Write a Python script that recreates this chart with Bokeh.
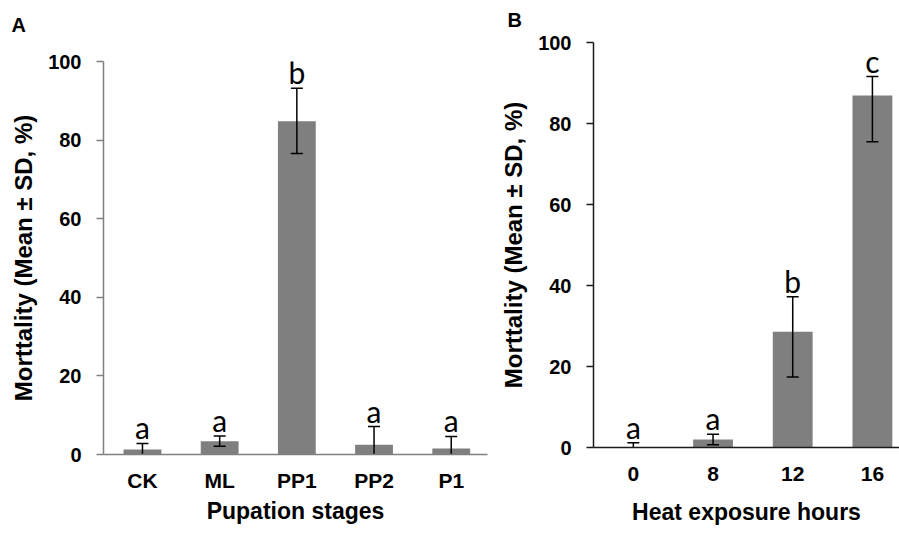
from bokeh.plotting import figure
from bokeh.layouts import row, column
from bokeh.models import FixedTicker, Range1d
from bokeh.embed import file_html
from bokeh.resources import INLINE
from bokeh.core.properties import value

# ---- data (panel A) ----
stages = ["CK", "ML", "PP1", "PP2", "P1"]
stage_mean = [1.3, 3.4, 84.8, 2.5, 1.5]
stage_err_up = [1.5, 1.3, 8.4, 4.6, 3.1]
stage_err_low = [1.5, 1.3, 8.2, 4.6, 3.1]
stage_letters = ["a", "a", "b", "a", "a"]

# ---- data (panel B) ----
hours = ["0", "8", "12", "16"]
hour_mean = [0.0, 2.0, 28.6, 86.9]
hour_err_up = [1.2, 1.3, 8.6, 4.7]
hour_err_low = [1.2, 1.3, 11.2, 11.4]
hour_letters = ["a", "a", "b", "c"]

y_ticks = [0, 20, 40, 60, 80, 100]
y_title = "Morttality (Mean \u00b1 SD, %)"
panel_tags = ["A", "B"]

FONT = "Liberation Sans"
BAR = "#7f7f7f"


def make_tag(tag, width, tag_h, tx, ty):
    t = figure(width=width, height=tag_h, output_backend="svg",
               toolbar_location=None, x_range=Range1d(0, width),
               y_range=Range1d(0, tag_h), frame_align=False,
               min_border=0, x_axis_type=None, y_axis_type=None)
    t.outline_line_color = None
    t.grid.visible = False
    t.text(x=[tx], y=[ty], text=[tag], text_align="left",
           text_baseline="middle", text_font=value(FONT),
           text_font_style="bold", text_font_size="20px",
           text_color="black")
    return t


def make_panel(cats, mean, up, low, letters, xlabel, width, height,
               b_right, b_top, b_bottom, xr, axis_color, bar_w,
               lab_standoff, xt_standoff):
    p = figure(width=width, height=height, output_backend="svg",
               toolbar_location=None, x_range=Range1d(*xr),
               y_range=Range1d(0, 100), frame_align=False,
               min_border_left=103, min_border_right=b_right,
               min_border_top=b_top, min_border_bottom=b_bottom)
    p.outline_line_color = None
    p.grid.visible = False
    p.background_fill_color = "white"
    p.border_fill_color = "white"

    xs = list(range(len(cats)))
    p.vbar(x=xs, top=mean, bottom=0, width=bar_w, fill_color=BAR,
           line_color=None)

    uppers = [m + u for m, u in zip(mean, up)]
    lowers = [max(m - l, 0) for m, l in zip(mean, low)]
    p.segment(x0=xs, y0=lowers, x1=xs, y1=uppers, line_color="black",
              line_width=1.5)
    p.dash(x=xs, y=uppers, size=12, line_color="black", line_width=1.5)
    lx = [x for x, m, l in zip(xs, mean, low) if m - l > 0]
    ly = [m - l for m, l in zip(mean, low) if m - l > 0]
    p.dash(x=lx, y=ly, size=12, line_color="black", line_width=1.5)

    p.text(x=xs, y=uppers, text=letters, text_align="center",
           text_baseline="bottom", y_offset=2,
           text_font=value("Lato"), text_font_size="30px",
           text_color="black")

    # y axis
    ya = p.yaxis[0]
    ya.ticker = FixedTicker(ticks=y_ticks)
    ya.minor_tick_line_color = None
    ya.major_tick_out = 7
    ya.major_tick_in = 0
    ya.axis_line_color = axis_color
    ya.major_tick_line_color = axis_color
    ya.axis_line_width = 1.5
    ya.major_tick_line_width = 1.5
    ya.major_label_text_font = FONT
    ya.major_label_text_font_style = "bold"
    ya.major_label_text_font_size = "20px"
    ya.major_label_text_color = "black"
    ya.major_label_standoff = 15
    ya.axis_label = y_title
    ya.axis_label_text_font = FONT
    ya.axis_label_text_font_style = "bold"
    ya.axis_label_text_font_size = "24px"
    ya.axis_label_text_color = "black"
    ya.axis_label_standoff = 8

    # x axis
    xa = p.xaxis[0]
    xa.ticker = FixedTicker(ticks=xs)
    xa.major_label_overrides = {i: c for i, c in enumerate(cats)}
    xa.minor_tick_line_color = None
    xa.major_tick_line_color = None
    xa.major_tick_out = 0
    xa.major_tick_in = 0
    xa.axis_line_color = axis_color
    xa.axis_line_width = 1.5
    xa.major_label_text_font = FONT
    xa.major_label_text_font_style = "bold"
    xa.major_label_text_font_size = "21px"
    xa.major_label_text_color = "black"
    xa.major_label_standoff = xt_standoff
    xa.axis_label = xlabel
    xa.axis_label_text_font = FONT
    xa.axis_label_text_font_style = "bold"
    xa.axis_label_text_font_size = "23px"
    xa.axis_label_text_color = "black"
    xa.axis_label_standoff = lab_standoff
    return p


TAG_A = 34
TAG_B = 30
tA = make_tag(panel_tags[0], 490, TAG_A, 11, TAG_A - 24)
pA = make_panel(stages, stage_mean, stage_err_up, stage_err_low,
                stage_letters, "Pupation stages", 490, 536 - TAG_A,
                3, 61 - TAG_A, 82, (-0.505, 4.47), "#808080", 0.49, 3, 14)
tB = make_tag(panel_tags[1], 409, TAG_B, 17, TAG_B - 19)
pB = make_panel(hours, hour_mean, hour_err_up, hour_err_low,
                hour_letters, "Heat exposure hours", 409, 536 - TAG_B,
                0, 42 - TAG_B, 89, (-0.50, 3.34), "#1a1a1a", 0.5, 15, 19)

layout = row(column(tA, pA), column(tB, pB))
open("out.html", "w").write(file_html(layout, INLINE))
